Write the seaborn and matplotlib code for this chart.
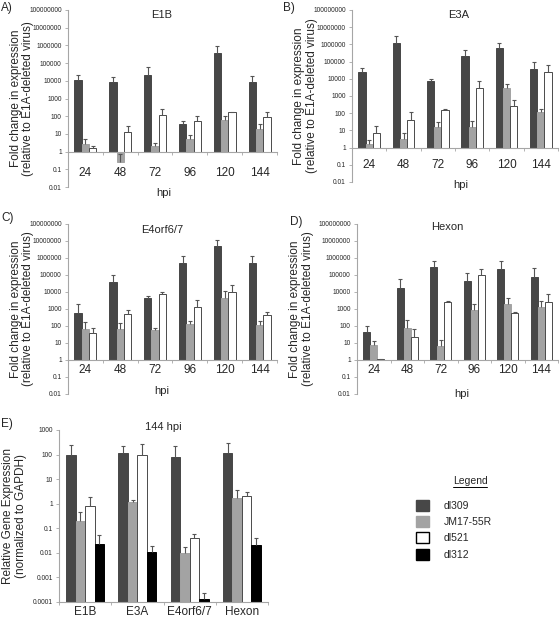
import numpy as np
import pandas as pd
import matplotlib
matplotlib.use("Agg")
import matplotlib.pyplot as plt
import seaborn as sns
from matplotlib.patches import Patch
from matplotlib.lines import Line2D
from matplotlib.ticker import FixedLocator, FixedFormatter, NullLocator

hpi = ["24", "48", "72", "96", "120", "144"]
genes = ["E1B", "E3A", "E4orf6/7", "Hexon"]
viruses = ["dl309", "JM17-55R", "dl521", "dl312"]

# fold change relative to E1A-deleted virus (panels A-D): mean and upper error
e1b_dl309 = [11000, 9000, 22000, 38, 350000, 9000]
e1b_dl309_err = [9000, 8000, 38000, 17, 600000, 10000]
e1b_jm17 = [2.7, 0.25, 2.2, 5.2, 62, 19]
e1b_jm17_err = [2.5, 0.5, 1.0, 3.6, 38, 18]
e1b_dl521 = [1.6, 13.5, 120, 55, 170, 87]
e1b_dl521_err = [0.6, 14, 140, 45, 10, 88]

e3a_dl309 = [25000, 1200000, 7000, 200000, 600000, 38000]
e3a_dl309_err = [15000, 2000000, 3000, 280000, 600000, 62000]
e3a_jm17 = [1.6, 3.1, 16, 15, 2900, 120]
e3a_jm17_err = [1.2, 4.2, 15, 22, 1800, 60]
e3a_dl521 = [7, 41, 160, 2900, 270, 25000]
e3a_dl521_err = [10, 74, 10, 4500, 350, 38000]

e4_dl309 = [560, 37000, 4700, 490000, 5000000, 490000]
e4_dl309_err = [1300, 58000, 1100, 900000, 7000000, 900000]
e4_jm17 = [70, 63, 58, 125, 4300, 115]
e4_jm17_err = [110, 97, 14, 75, 6700, 85]
e4_dl521 = [37, 490, 7200, 1400, 10000, 440]
e4_dl521_err = [36, 380, 2800, 2000, 16000, 260]

hex_dl309 = [47, 18000, 280000, 42000, 230000, 80000]
hex_dl309_err = [58, 38000, 420000, 98000, 400000, 190000]
hex_jm17 = [7.3, 73, 6.7, 870, 2000, 1250]
hex_jm17_err = [6.7, 147, 8.3, 1030, 2600, 1850]
hex_dl521 = [1.1, 24, 2700, 105000, 560, 2700]
hex_dl521_err = [0.05, 39, 400, 135000, 140, 4900]

# 144 hpi, relative to GAPDH (panel E)
gapdh_dl309 = [97, 112, 80, 117]
gapdh_dl309_err = [143, 113, 145, 173]
gapdh_jm17 = [0.19, 1.13, 0.0103, 1.75]
gapdh_jm17_err = [0.27, 0.32, 0.0077, 1.75]
gapdh_dl521 = [0.8, 97, 0.04, 2.0]
gapdh_dl521_err = [1.1, 173, 0.02, 1.1]
gapdh_dl312 = [0.024, 0.0113, 0.00013, 0.02]
gapdh_dl312_err = [0.031, 0.0077, 0.00011, 0.02]

colors = {"dl309": "#474747", "JM17-55R": "#a3a3a3", "dl521": "#ffffff", "dl312": "#000000"}
edges = {"dl309": "#474747", "JM17-55R": "#a3a3a3", "dl521": "#4a4a4a", "dl312": "#000000"}
axis_grey = "#a6a6a6"

sns.set_style("white")
plt.rcParams["font.family"] = ["Liberation Sans", "DejaVu Sans"]


def draw_bars(ax, cats, series, width, base):
    names = [s[0] for s in series]
    df = pd.DataFrame({
        "cat": np.tile(cats, len(series)),
        "virus": np.repeat(names, len(cats)),
        "value": np.concatenate([s[1] for s in series]),
        "err": np.concatenate([s[2] for s in series]),
    })
    sns.barplot(data=df, x="cat", y="value", hue="virus", order=cats, hue_order=names,
                palette=colors, width=width, errorbar=None, legend=False, ax=ax,
                linewidth=0.7)
    ax.set_yscale("log")
    xs = []
    for p, v, name in zip(ax.patches, df["value"], df["virus"]):
        p.set_edgecolor(edges[name])
        if base is not None:
            # bars grow from the axis crossing at 1
            p.set_y(base)
            p.set_height(v - base)
        xs.append(p.get_x() + p.get_width() / 2)
    eb = ax.errorbar(xs, df["value"], yerr=[np.zeros(len(df)), df["err"]], fmt="none",
                     ecolor="#555555", elinewidth=0.8, capsize=1.6, capthick=0.8)
    for cl in eb.lines[1]:
        if np.allclose(cl.get_ydata(), df["value"]):
            cl.set_visible(False)


def style_axes(ax, lo, hi, cross, n, pad, fs_x=8.5):
    ax.set_ylim(lo, hi)
    ks = list(range(int(round(np.log10(lo))), int(round(np.log10(hi))) + 1))
    ticks = [10.0 ** k for k in ks]
    labels = [f"{t:.{max(0, -k)}f}" for t, k in zip(ticks, ks)]
    ax.yaxis.set_major_locator(FixedLocator(ticks))
    ax.yaxis.set_major_formatter(FixedFormatter(labels))
    ax.yaxis.set_minor_locator(NullLocator())
    sns.despine(ax=ax)
    ax.spines["bottom"].set_position(("data", cross))
    for s in ("left", "bottom"):
        ax.spines[s].set_color(axis_grey)
        ax.spines[s].set_linewidth(0.8)
    ax.set_xlim(-0.5, n - 0.5)
    ax.set_xticks(np.arange(-0.5, n, 1.0), minor=True)
    ax.tick_params(axis="y", which="major", labelsize=4.8, length=2.5, width=0.6,
                   color=axis_grey, pad=2, left=True)
    ax.tick_params(axis="x", which="major", labelsize=fs_x, length=0, pad=pad)
    ax.tick_params(axis="x", which="minor", length=2.5, width=0.6, color=axis_grey,
                   direction="out", bottom=True)
    ax.set_xlabel("")
    ax.set_ylabel("")


fig = plt.figure(figsize=(5.6, 6.18), dpi=100)
W, H = 560.0, 618.0


def add_ax(l, t, r, b):
    return fig.add_axes([l / W, 1 - b / H, (r - l) / W, (b - t) / H])


fold_label = "Fold change in expression\n(relative to E1A-deleted virus)"
panels = [
    ("A)", "E1B", (68, 10, 277, 187), (1, 2), [("dl309", e1b_dl309, e1b_dl309_err),
                                         ("JM17-55R", e1b_jm17, e1b_jm17_err),
                                         ("dl521", e1b_dl521, e1b_dl521_err)],
     11, (0.45, 0.972), (0.46, -0.034), -0.22),
    ("B)", "E3A", (352, 10, 558, 182), (283, 2), [("dl309", e3a_dl309, e3a_dl309_err),
                                           ("JM17-55R", e3a_jm17, e3a_jm17_err),
                                           ("dl521", e3a_dl521, e3a_dl521_err)],
     8.4, (0.52, 0.97), (0.53, -0.015), -0.226),
    ("C)", "E4orf6/7", (68, 224, 277, 394), (1, 212), [("dl309", e4_dl309, e4_dl309_err),
                                                ("JM17-55R", e4_jm17, e4_jm17_err),
                                                ("dl521", e4_dl521, e4_dl521_err)],
     3, (0.45, 0.965), (0.45, 0.02), -0.22),
    ("D)", "Hexon", (357, 224, 558, 394), (290, 216), [("dl309", hex_dl309, hex_dl309_err),
                                                ("JM17-55R", hex_jm17, hex_jm17_err),
                                                ("dl521", hex_dl521, hex_dl521_err)],
     3, (0.45, 0.98), (0.52, 0.0), -0.274),
]

for letter, title, box, lpos, series, pad, tpos, hpos, ylx in panels:
    ax = add_ax(*box)
    draw_bars(ax, hpi, series, 0.63, 1.0)
    style_axes(ax, 0.01, 1e8, 1.0, len(hpi), pad)
    ax.text(tpos[0], tpos[1], title, transform=ax.transAxes, ha="center", va="center",
            fontsize=8)
    ax.set_xlabel("hpi", fontsize=8)
    ax.xaxis.set_label_coords(*hpos)
    ax.xaxis.label.set_va("center")
    ax.set_ylabel(fold_label, fontsize=8.5, linespacing=1.1)
    ax.yaxis.set_label_coords(ylx, 0.5)
    ax.yaxis.label.set_va("center")
    fig.text(lpos[0] / W, 1 - lpos[1] / H, letter, ha="left", va="top", fontsize=8.5)

# panel E
axe = add_ax(59, 430, 268, 602)
draw_bars(axe, genes, [("dl309", gapdh_dl309, gapdh_dl309_err),
                       ("JM17-55R", gapdh_jm17, gapdh_jm17_err),
                       ("dl521", gapdh_dl521, gapdh_dl521_err),
                       ("dl312", gapdh_dl312, gapdh_dl312_err)], 0.73, None)
style_axes(axe, 1e-4, 1e3, 1e-4, len(genes), 3)
axe.text(0.5, 1.02, "144 hpi", transform=axe.transAxes, ha="center", va="center", fontsize=8)
axe.set_ylabel("Relative Gene Expression\n(normalized to GAPDH)", fontsize=8.5, linespacing=1.1)
axe.yaxis.set_label_coords(-0.215, 0.5)
axe.yaxis.label.set_va("center")
fig.text(1 / W, 1 - 418 / H, "E)", ha="left", va="top", fontsize=8.5)

# legend
leg_title = fig.text(470 / W, 1 - 481 / H, "Legend", ha="center", va="center", fontsize=7.5)
handles = [Patch(facecolor=colors[v], edgecolor=("#000000" if v == "dl521" else colors[v]),
                 linewidth=1.0) for v in viruses]
fig.legend(handles, viruses, loc="upper left", bbox_to_anchor=(416 / W, 1 - 500 / H),
           frameon=False, fontsize=7.5, handlelength=1.25, handleheight=1.25,
           labelspacing=0.5, handletextpad=1.45, borderpad=0, borderaxespad=0)

fig.canvas.draw()
bb = leg_title.get_window_extent(fig.canvas.get_renderer())
(x0, y0), (x1, _) = fig.transFigure.inverted().transform([(bb.x0, bb.y0 - 0.5), (bb.x1, bb.y1)])
fig.add_artist(Line2D([x0, x1], [y0, y0], transform=fig.transFigure, color="black", lw=0.7))

fig.savefig("out.png", dpi=100)
